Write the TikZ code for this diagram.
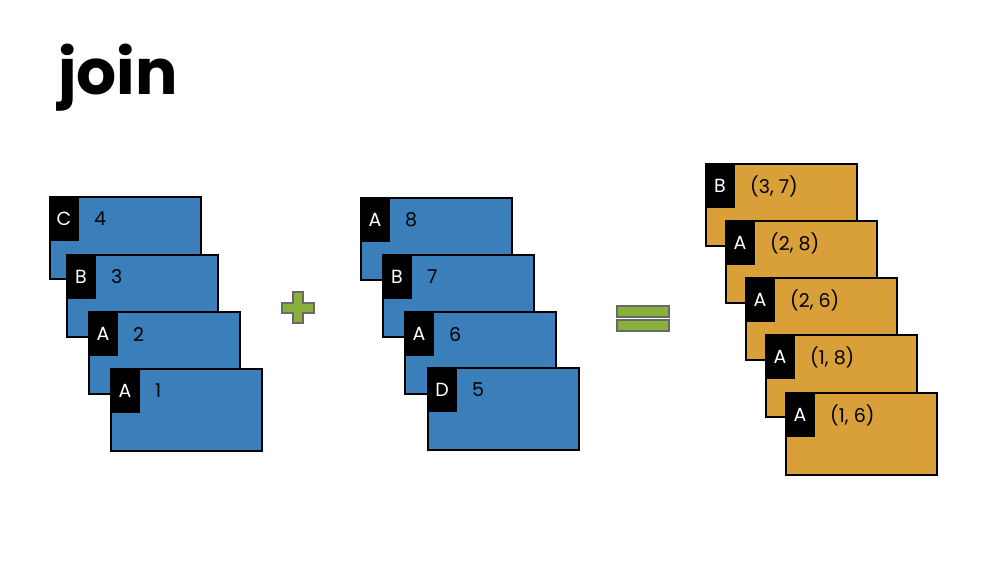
\documentclass[tikz,border=0pt]{standalone}
\usepackage{fontspec}
\setmainfont{Poppins}
\definecolor{cardblue}{RGB}{58,126,186}
\definecolor{cardorange}{RGB}{217,160,58}
\definecolor{opgreen}{RGB}{138,176,60}
\definecolor{opgray}{RGB}{105,105,105}
\tikzset{
  card/.style={draw=black, line width=1.8pt, anchor=north west, minimum width=151pt, minimum height=82pt, inner sep=0pt},
  keybox/.style={fill=black, anchor=north west, minimum width=30pt, minimum height=45pt, inner sep=0pt, outer sep=0pt, text=white, font=\fontsize{19}{19}\selectfont},
  val/.style={anchor=west, inner sep=0pt, font=\fontsize{19}{19}\selectfont},
  opshape/.style={fill=opgreen, draw=opgray, line width=1.6pt},
  title/.style={anchor=base west, inner sep=0pt, font=\fontsize{63}{63}\selectfont\bfseries}
}
\newcommand\joincard[6]{%
  \node[card, fill=#4] (#1) at (#2,#3) {};
  \node[keybox] (#1k) at (#1.north west) {#5};
  \node[val] (#1v) at ([xshift=45pt,yshift=-23pt]#1.north west) {#6};
}
\begin{document}
\begin{tikzpicture}[x=1pt,y=-1pt]
\useasboundingbox[fill=white] (0,0) rectangle (1000,563);
\node[title] (title) at (58,94) {join};
% left stack
\joincard{la}{49}{196}{cardblue}{C}{4}
\joincard{lb}{66}{254}{cardblue}{B}{3}
\joincard{lc}{88}{311}{cardblue}{A}{2}
\joincard{ld}{110}{368}{cardblue}{A}{1}
% middle stack
\joincard{ma}{360}{197}{cardblue}{A}{8}
\joincard{mb}{382}{254}{cardblue}{B}{7}
\joincard{mc}{404}{311}{cardblue}{A}{6}
\joincard{md}{427}{367}{cardblue}{D}{5}
% right stack
\joincard{ra}{705}{163}{cardorange}{B}{(3, 7)}
\joincard{rb}{725}{220}{cardorange}{A}{(2, 8)}
\joincard{rc}{745}{277}{cardorange}{A}{(2, 6)}
\joincard{rd}{765}{334}{cardorange}{A}{(1, 8)}
\joincard{re}{785}{392}{cardorange}{A}{(1, 6)}
% plus
\draw[opshape] (293,292) -- (303,292) -- (303,303) -- (314,303) -- (314,313) -- (303,313) -- (303,323) -- (293,323) -- (293,313) -- (282,313) -- (282,303) -- (293,303) -- cycle;
% equals
\draw[opshape] (617,306) rectangle (669,317);
\draw[opshape] (617,320) rectangle (669,331);
\end{tikzpicture}
\end{document}
